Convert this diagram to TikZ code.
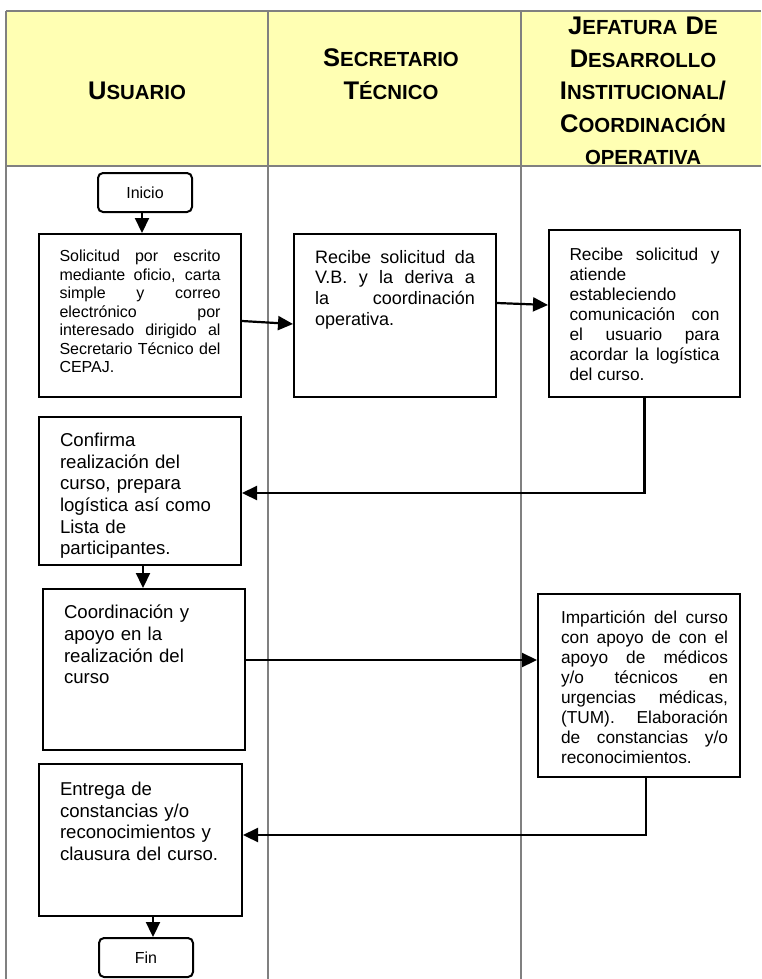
\documentclass[tikz,border=0pt]{standalone}
\usepackage{fontspec}
\setmainfont{Liberation Sans}
\usepackage{tikz}
\usetikzlibrary{backgrounds,arrows.meta,positioning}

\definecolor{lanefill}{HTML}{FFFFB3}
\definecolor{laneline}{HTML}{808080}

% big first letter, small capitals after it
\newcommand{\hcap}[2]{{\fontsize{25.5}{32.5}\selectfont #1}{\fontsize{20.4}{32.5}\selectfont #2}}
% text kept at the top of a box of fixed height
\newcommand{\toptext}[2]{\vbox to #1{\tolerance=10000 \hyphenpenalty=10000 #2\par\vss}}

\begin{document}
\begin{tikzpicture}[x=1pt,y=-1pt,thick]
    % `actbox' is used for the activity boxes, `termbox' for Inicio and Fin.
    % `lanehead' is used for the column titles, `flow' for the arrows.
    \tikzstyle{actbox} = [draw,line width=2pt,inner sep=0pt]
    \tikzstyle{termbox} = [draw,line width=2pt,rounded corners=5pt,minimum width=94pt,minimum height=39pt,inner sep=0pt,font=\fontsize{16}{18}\selectfont]
    \tikzstyle{lanehead} = [anchor=base,text width=240pt,align=center,inner sep=0pt,font=\bfseries\fontsize{25.5}{32.5}\selectfont]
    \tikzstyle{bigtext} = [font=\fontsize{18.6}{21.7}\selectfont]
    \tikzstyle{flow} = [line width=2.2pt,-{Triangle[length=15pt,width=14pt]}]
    %
    \useasboundingbox (0,0) rectangle (761,979);
    \begin{pgfonlayer}{background}
        % Draw header and lanes.
        \fill[lanefill] (6,11) rectangle (761,166);
        \draw[laneline,line width=2.5pt] (761,11) -- (6,11);
        \draw[laneline,line width=2pt] (6,11) -- (6,979)  (268,11) -- (268,979)
                     (521,11) -- (521,979)  (6,166) -- (761,166);
    \end{pgfonlayer}
    %
    \node[lanehead] (usuario) at (137,99.3) {\hcap{U}{SUARIO}};
    \node[lanehead] (secretario) at (391,66.7) {\hcap{S}{ECRETARIO}\\\hcap{T}{ÉCNICO}};
    \node[lanehead] (jefatura) at (643,35) {\hcap{J}{EFATURA} \hcap{D}{E}\\\hcap{D}{ESARROLLO}\\\hcap{I}{NSTITUCIONAL}/\\\hcap{C}{OORDINACIÓN}\\\hcap{}{OPERATIVA}};
    %
    \node[termbox] (inicio) at (145,192.5) {Inicio};
    \node[actbox,minimum width=202pt,minimum height=163pt,text width=161pt,align=justify,font=\fontsize{16}{18.5}\selectfont] (solicitud) at (140,315.5)
      {\toptext{131pt}{Solicitud por escrito\linebreak mediante oficio, carta\linebreak simple y correo\linebreak electrónico por\linebreak interesado dirigido al\linebreak Secretario Técnico del\linebreak CEPAJ.}};
    \node[actbox,minimum width=202pt,minimum height=163pt,text width=160pt,align=justify,font=\fontsize{18}{20.7}\selectfont] (recibe) at (395,315.5)
      {\toptext{131pt}{Recibe solicitud da\linebreak V.B. y la deriva a\linebreak la coordinación\linebreak operativa.}};
    \node[actbox,minimum width=191pt,minimum height=167pt,text width=150pt,align=justify,font=\fontsize{17.3}{20}\selectfont] (atiende) at (644.5,313.5)
      {\toptext{131pt}{Recibe solicitud y\linebreak atiende\newline estableciendo\newline comunicación con\linebreak el usuario para\linebreak acordar la logística\linebreak del curso.}};
    \node[actbox,bigtext,minimum width=202pt,minimum height=148pt,text width=160pt,align=left] (confirma) at (140,491)
      {\toptext{116pt}{Confirma\newline realización del\newline curso, prepara\newline logística así como\newline Lista de\newline participantes.}};
    \node[actbox,bigtext,minimum width=202pt,minimum height=161pt,text width=160pt,align=left] (apoyo) at (144,669.5)
      {\toptext{129pt}{Coordinación y\newline apoyo en la\newline realización del\newline curso}};
    \node[actbox,minimum width=202pt,minimum height=183pt,text width=178pt,align=justify,font=\fontsize{17.3}{20}\selectfont] (imparte) at (639,685.5)
      {\toptext{149pt}{\leftskip=11pt Impartición del curso\linebreak con apoyo de con el\linebreak apoyo de médicos\linebreak y/o técnicos en\linebreak urgencias médicas,\linebreak (TUM). Elaboración\linebreak de constancias y/o\linebreak reconocimientos.}};
    \node[actbox,bigtext,minimum width=203pt,minimum height=152pt,text width=161pt,align=left] (entrega) at (140.5,840)
      {\toptext{116pt}{Entrega de\newline constancias y/o\newline reconocimientos y\newline clausura del curso.}};
    \node[termbox] (fin) at (146,957.5) {Fin};
    %
    % Draw arrows.
    \draw[flow] ([xshift=-3pt]inicio.south) -- ([xshift=2pt]solicitud.north);
    \draw[flow] ([yshift=-5.5pt]solicitud.east) -- ([yshift=-8.5pt]recibe.west);
    \draw[flow] ([yshift=12.5pt]recibe.east) -- ([yshift=8.5pt]atiende.west);
    \draw[flow] (atiende.south) |- ([yshift=-2pt]confirma.east);
    \draw[flow] ([xshift=3pt]confirma.south) -- ([xshift=-1pt]apoyo.north);
    \draw[flow] ([yshift=9.5pt]apoyo.east) -- ([yshift=25.5pt]imparte.west);
    \draw[flow] ([xshift=7pt]imparte.south) |- ([yshift=5pt]entrega.east);
    \draw[flow] ([xshift=12.5pt]entrega.south) -- ([xshift=7pt]fin.north);
\end{tikzpicture}
\end{document}
